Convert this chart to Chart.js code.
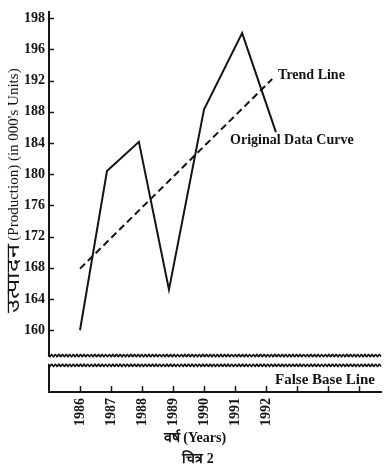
<!DOCTYPE html>
<html>
<head>
<meta charset="utf-8">
<script src="https://cdn.jsdelivr.net/npm/chart.js@4.4.1/dist/chart.umd.min.js"></script>
<style>
  html, body { margin: 0; padding: 0; background: #fff; }
  #c { display: block; }
</style>
</head>
<body>
<canvas id="c" width="384" height="466"></canvas>
<script>
// ---- data ----
const years = [1986, 1987, 1988, 1989, 1990, 1991, 1992];
// x-positions of the hand-drawn data points (in years) and their values
const dataYears = [1986, 1986.87, 1987.9, 1988.87, 1990, 1991.23, 1992.32];
const production = [160, 180.4, 184.15, 165.2, 188.3, 198.1, 185.4];
// trend line endpoints
const trendYears = [1986, 1992.2];
const trendValues = [167.9, 192.2];
// axis ticks
const xTickValues = [1986, 1987, 1988, 1989, 1990, 1991, 1992, 1993, 1994, 1995];
const xTickLabels = ['1986', '1987', '1988', '1989', '1990', '1991', '1992', '', '', ''];
const yTickValues = [160, 164, 168, 172, 176, 180, 184, 188, 192, 196, 200];
const yTickLabels = ['160', '164', '168', '172', '176', '180', '184', '188', '192', '196', '198'];
// texts
const yTitleHindi = 'उत्पादन';
const yTitleEnglish = ' (Production) (in 000\'s Units)';
const xTitle = 'वर्ष (Years)';
const figTitle = 'चित्र 2';
const trendLabel = 'Trend Line';
const dataLabel = 'Original Data Curve';
const baseLabel = 'False Base Line';

const INK = '#141414';
const SERIF = '"Liberation Serif", "DejaVu Serif", serif';

const breakTop = 156.75, breakBottom = 155.5;

const decor = {
  id: 'decor',
  afterDraw(chart) {
    const { ctx, chartArea: a, scales: { x, y } } = chart;
    ctx.save();
    ctx.strokeStyle = INK;
    ctx.lineWidth = 1.5;
    // inward tick marks
    yTickValues.forEach(v => {
      const py = Math.round(y.getPixelForValue(v)) + 0.5;
      ctx.beginPath(); ctx.moveTo(a.left, py); ctx.lineTo(a.left + 5, py); ctx.stroke();
    });
    xTickValues.forEach(v => {
      const px = Math.round(x.getPixelForValue(v)) + 0.5;
      ctx.beginPath(); ctx.moveTo(px, a.bottom); ctx.lineTo(px, a.bottom - 6); ctx.stroke();
    });
    // axis break
    const yb1 = y.getPixelForValue(breakTop), yb2 = y.getPixelForValue(breakBottom);
    ctx.fillStyle = '#fff';
    ctx.fillRect(a.left - 3, yb1 + 1, a.right - a.left + 6, yb2 - yb1 - 2);
    const wavy = (yc) => {
      ctx.beginPath();
      for (let px = a.left - 1; px <= a.right; px += 0.5) {
        const py = yc + 1.1 * Math.sin((px - a.left) / 3.6 * 2 * Math.PI);
        if (px === a.left - 1) ctx.moveTo(px, py); else ctx.lineTo(px, py);
      }
      ctx.lineWidth = 1.6;
      ctx.stroke();
    };
    wavy(yb1); wavy(yb2);
    // texts
    ctx.fillStyle = INK;
    ctx.textBaseline = 'middle';
    ctx.font = 'bold 14px ' + SERIF;
    ctx.textAlign = 'left';
    ctx.fillText(trendLabel, x.getPixelForValue(1992.39), y.getPixelForValue(192.7));
    ctx.fillText(dataLabel, x.getPixelForValue(1990.84), y.getPixelForValue(184.3));
    ctx.textAlign = 'right';
    ctx.font = 'bold 15px ' + SERIF;
    ctx.fillText(baseLabel, a.right - 6, (yb2 + a.bottom) / 2 + 1);
    ctx.textAlign = 'center';
    ctx.font = 'bold 14px ' + SERIF;
    ctx.fillText(xTitle, 195, 438);
    ctx.fillText(figTitle, 198, 459);
    // y title (rotated, reading bottom-to-top)
    ctx.save();
    ctx.translate(14, 313);
    ctx.rotate(-Math.PI / 2);
    ctx.textAlign = 'left';
    ctx.font = '18px ' + SERIF;
    const w1 = ctx.measureText(yTitleHindi).width * 1.4;
    ctx.save();
    ctx.scale(1.4, 1);
    ctx.fillText(yTitleHindi, 0, 0);
    ctx.restore();
    ctx.font = '15px ' + SERIF;
    ctx.fillText(yTitleEnglish, w1, 0);
    ctx.restore();
    ctx.restore();
  }
};

new Chart(document.getElementById('c'), {
  type: 'line',
  data: {
    datasets: [
      {
        label: 'Original Data Curve',
        data: dataYears.map((yr, i) => ({ x: yr, y: production[i] })),
        borderColor: INK,
        borderWidth: 2,
        pointRadius: 0,
        tension: 0,
        fill: false
      },
      {
        label: 'Trend Line',
        data: trendYears.map((yr, i) => ({ x: yr, y: trendValues[i] })),
        borderColor: INK,
        borderWidth: 2,
        borderDash: [7, 4],
        pointRadius: 0,
        tension: 0,
        fill: false
      }
    ]
  },
  options: {
    responsive: false,
    animation: false,
    devicePixelRatio: 1,
    layout: { padding: { top: 5, right: 3, left: 0, bottom: 0 } },
    plugins: { legend: { display: false }, tooltip: { enabled: false } },
    scales: {
      x: {
        type: 'linear',
        min: 1985,
        max: 1995.71,
        afterBuildTicks: (s) => { s.ticks = xTickValues.map(v => ({ value: v })); },
        afterFit: (s) => { s.height = 74; },
        grid: { display: false, drawTicks: false },
        border: { display: true, color: INK, width: 2 },
        ticks: {
          autoSkip: false,
          minRotation: 90,
          maxRotation: 90,
          padding: 6,
          color: INK,
          font: { family: SERIF, size: 14, weight: 'bold' },
          callback: (v, i) => xTickLabels[i]
        }
      },
      y: {
        type: 'linear',
        min: 152.08,
        max: 200.75,
        afterBuildTicks: (s) => { s.ticks = yTickValues.map(v => ({ value: v })); },
        afterFit: (s) => { s.width = 49; },
        grid: { display: false, drawTicks: false },
        border: { display: true, color: INK, width: 2 },
        ticks: {
          padding: 4,
          color: INK,
          font: { family: SERIF, size: 14, weight: 'bold' },
          callback: (v, i) => yTickLabels[i]
        }
      }
    }
  },
  plugins: [decor]
});
</script>
</body>
</html>
